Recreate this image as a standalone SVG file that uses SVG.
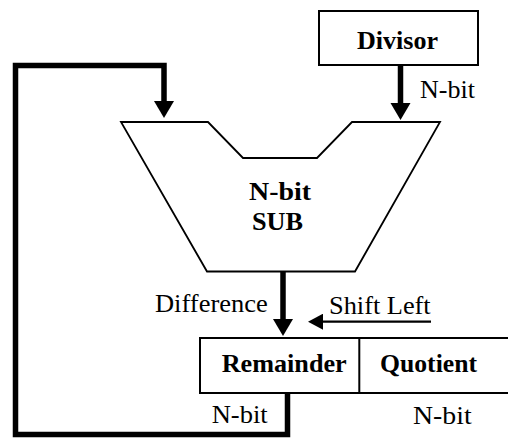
<svg xmlns="http://www.w3.org/2000/svg" width="508" height="439" viewBox="0 0 508 439">
<style>
.box{fill:#fff;stroke:#000;stroke-width:2}
.trap{fill:#fff;stroke:#000;stroke-width:1.8;stroke-linejoin:miter}
.bus{fill:none;stroke:#000;stroke-width:5.5;stroke-linejoin:miter;stroke-linecap:butt}
.thin{fill:none;stroke:#000;stroke-width:2.2}
.t{font-family:"Liberation Serif","Times New Roman",serif;font-size:25px;fill:#000}
.b{font-weight:bold}
</style>
<defs>
<marker id="ah" markerUnits="userSpaceOnUse" markerWidth="20" markerHeight="22" refX="0" refY="10" orient="auto" viewBox="0 0 20 20">
<path d="M0,0 L17,10 L0,20 z" fill="#000"/>
</marker>
<marker id="ahs" markerUnits="userSpaceOnUse" markerWidth="16" markerHeight="16" refX="0" refY="8" orient="auto" viewBox="0 0 16 16">
<path d="M0,0 L15,8 L0,16 z" fill="#000"/>
</marker>
</defs>
<g id="connectors">
<path class="bus" d="M287.5,393 V434.5 H15.5 V65.5 H164 V101" marker-end="url(#ah)"/>
<path class="bus" d="M400.5,65 V103" marker-end="url(#ah)"/>
<path class="bus" d="M283,272 V319" marker-end="url(#ah)"/>
<path class="thin" d="M431,321.7 H323" marker-end="url(#ahs)"/>
</g>
<g id="divisor">
<rect class="box" x="319" y="11" width="159" height="54"/>
<text class="t b" x="357" y="49" textLength="81" lengthAdjust="spacingAndGlyphs">Divisor</text>
</g>
<g id="sub">
<path class="trap" d="M121,122 L208,122 L243,158 L317,158 L352,122 L440,122 L355,271.5 L207,271.5 Z"/>
<text class="t b" x="249" y="200" textLength="62" lengthAdjust="spacingAndGlyphs">N-bit</text>
<text class="t b" x="252" y="230" textLength="51" lengthAdjust="spacingAndGlyphs">SUB</text>
</g>
<g id="register">
<rect class="box" x="200" y="338" width="320" height="55"/>
<line class="box" x1="359.3" y1="338" x2="359.3" y2="393"/>
<text class="t b" x="221.7" y="371.7" textLength="125" lengthAdjust="spacingAndGlyphs">Remainder</text>
<text class="t b" x="380" y="371.7" textLength="97" lengthAdjust="spacingAndGlyphs">Quotient</text>
</g>
<g id="labels">
<text class="t" x="420" y="98" textLength="55" lengthAdjust="spacingAndGlyphs">N-bit</text>
<text class="t" x="155" y="311.7" textLength="112.7" lengthAdjust="spacingAndGlyphs">Difference</text>
<text class="t" x="329" y="314" textLength="101.7" lengthAdjust="spacingAndGlyphs">Shift Left</text>
<text class="t" x="211.7" y="422.7" textLength="56" lengthAdjust="spacingAndGlyphs">N-bit</text>
<text class="t" x="413" y="424" textLength="58.7" lengthAdjust="spacingAndGlyphs">N-bit</text>
</g>
</svg>
